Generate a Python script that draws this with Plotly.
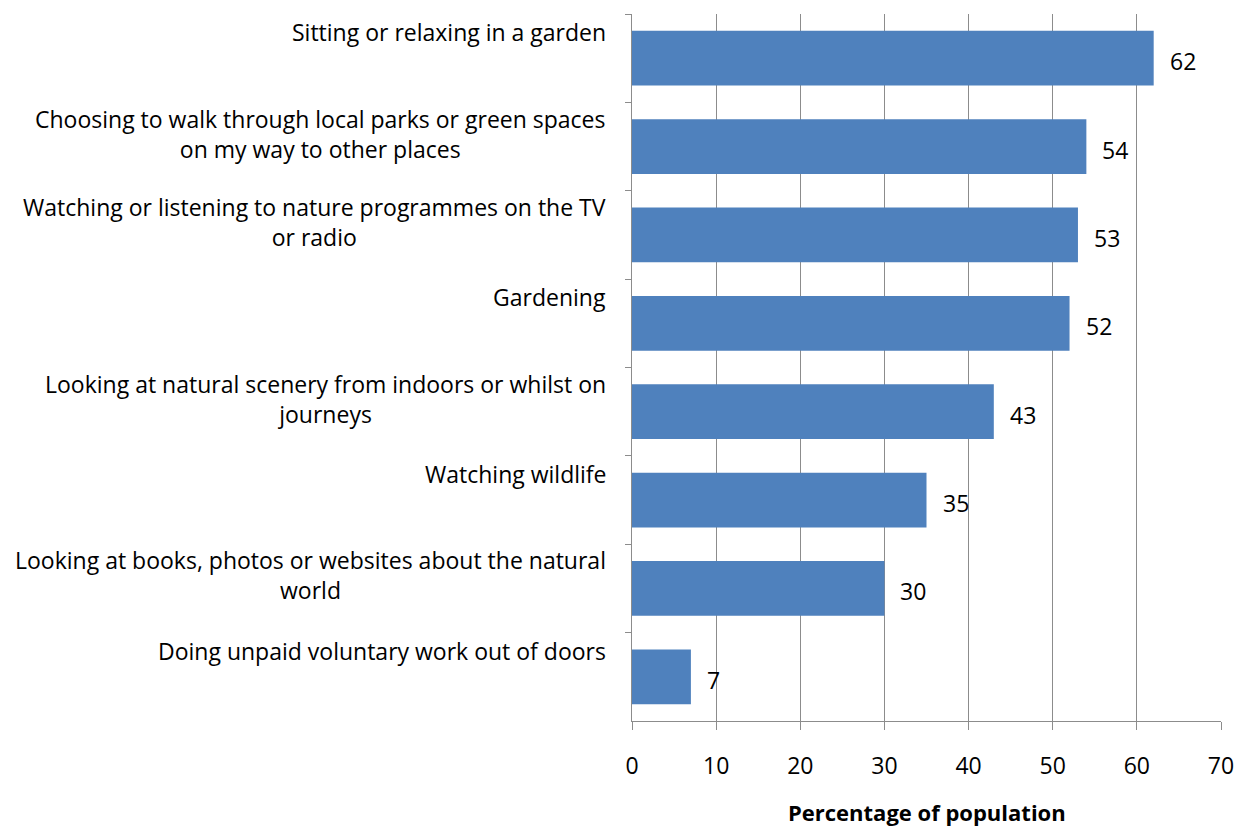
import plotly.graph_objects as go

categories = [
    "Sitting or relaxing in a garden",
    "Choosing to walk through local parks or green spaces<br>on my way to other places",
    "Watching or listening to nature programmes on the TV<br>or radio",
    "Gardening",
    "Looking at natural scenery from indoors or whilst on<br>journeys",
    "Watching wildlife",
    "Looking at books, photos or websites about the natural<br>world",
    "Doing unpaid voluntary work out of doors",
]
values = [62, 54, 53, 52, 43, 35, 30, 7]
x_ticks = [0, 10, 20, 30, 40, 50, 60, 70]
x_title = "Percentage of population"

FONT = "Open Sans"
FS = 23
GRID = "#8c8c8c"

fig = go.Figure()
fig.add_trace(go.Bar(
    x=values, y=categories, orientation="h",
    marker=dict(color="#4F81BD", line=dict(width=0)),
    width=0.62, hoverinfo="skip",
))

annotations = []
for c, v in zip(categories, values):
    annotations.append(dict(
        x=0, y=c, xref="x", yref="y", text=c, showarrow=False,
        xanchor="right", yanchor="middle", align="center",
        xshift=-24, yshift=(26 if "<br>" not in c else 13),
        font=dict(family=FONT, size=FS, color="#000000"),
    ))
    annotations.append(dict(
        x=v, y=c, xref="x", yref="y", text=str(v), showarrow=False,
        xanchor="left", yanchor="middle", xshift=14, yshift=-3,
        font=dict(family=FONT, size=FS, color="#000000"),
    ))
annotations.append(dict(
    x=0.5, y=0, xref="paper", yref="paper", text="<b>" + x_title + "</b>",
    showarrow=False, xanchor="center", yanchor="middle", yshift=-91,
    font=dict(family=FONT, size=22, color="#000000"),
))

fig.update_layout(
    width=1237, height=828,
    margin=dict(l=632, r=16, t=14, b=107, autoexpand=False),
    plot_bgcolor="white", paper_bgcolor="white",
    showlegend=False,
    font=dict(family=FONT, size=FS, color="#000000"),
    annotations=annotations,
    xaxis=dict(
        range=[0, 70], tickvals=x_ticks, ticktext=[str(t) for t in x_ticks],
        showgrid=True, gridcolor=GRID, gridwidth=1,
        showline=True, linecolor=GRID, linewidth=1,
        ticks="outside", ticklen=8, tickcolor=GRID,
        ticklabelstandoff=16, zeroline=False, automargin=False,
        tickfont=dict(family=FONT, size=FS),
    ),
    yaxis=dict(
        type="category", autorange="reversed", automargin=False,
        showticklabels=False, showgrid=False,
        showline=True, linecolor=GRID, linewidth=1,
        ticks="outside", ticklen=6, tickcolor=GRID, tickson="boundaries",
    ),
)

# remove the default page margin so the figure fills the window exactly
fig.write_html(
    "out.html",
    config={"displayModeBar": False},
    post_script="document.body.style.margin='0';document.body.style.overflow='hidden';",
)
